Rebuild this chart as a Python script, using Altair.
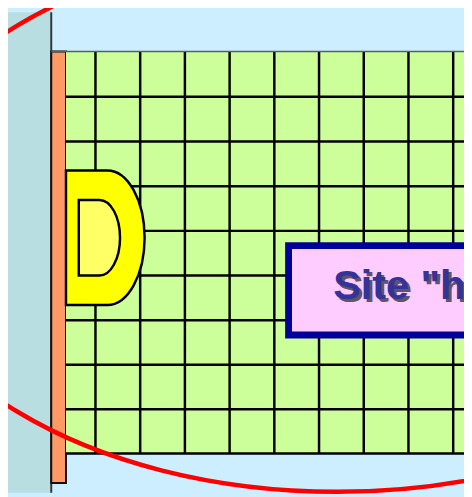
import altair as alt
import pandas as pd

# ---- diagram content (reference pixel units) ----
panel_names = ["wall", "strip", "field"]
panel_x1 = [6, 52, 67]
panel_x2 = [52, 67, 500]
panel_y1 = [3, 48, 48]
panel_y2 = [530, 487, 457]

grid_x = [97, 142.5, 188, 233.5, 279, 324.5, 370, 415.5, 461]
grid_y = [94, 139.5, 185, 230.5, 276, 321.5, 366.7, 411.9, 457]

door_center = [107, 237.5]
box_bounds = [293.5, 520, 245.5, 336.5]
label_text = ['Site "hôte"']
label_pos = [339, 300]
ellipse_center = [343, 218]
ellipse_radii = [460, 278]

# ---- scales that map diagram units onto the page ----
X = alt.Scale(domain=[8, 472], range=[0, 464], nice=False, zero=False)
Y = alt.Scale(domain=[8, 497], range=[0, 489], nice=False, zero=False)


def xe(f):
    return alt.X(f, type="quantitative", scale=X, axis=None)


def ye(f):
    return alt.Y(f, type="quantitative", scale=Y, axis=None)


panels = pd.DataFrame({"name": panel_names, "x1": panel_x1, "x2": panel_x2,
                       "y1": panel_y1, "y2": panel_y2})
fills = {"wall": "#B9DEE2", "strip": "#FF9966", "field": "#CCFF99"}
strokes = {"wall": "#2a3a3a", "strip": "#111111", "field": "#CCFF99"}

layers = []
for n in panel_names:
    d = panels[panels["name"] == n]
    layers.append(
        alt.Chart(d).mark_rect(fill=fills[n], stroke=strokes[n],
                               strokeWidth=2 if n != "field" else 0, clip=True)
        .encode(x=xe("x1"), x2="x2", y=ye("y1"), y2="y2")
    )

gx = pd.DataFrame({"x": grid_x, "y1": [48] * len(grid_x), "y2": [457] * len(grid_x)})
gy = pd.DataFrame({"y": grid_y, "x1": [67] * len(grid_y), "x2": [500] * len(grid_y)})
layers.append(alt.Chart(gx).mark_rule(color="#000000", strokeWidth=2.5, clip=True)
              .encode(x=xe("x"), y=ye("y1"), y2="y2"))
layers.append(alt.Chart(gy).mark_rule(color="#000000", strokeWidth=2.5, clip=True)
              .encode(y=ye("y"), x=xe("x1"), x2="x2"))
top = pd.DataFrame({"y": [48], "x1": [52], "x2": [500]})
layers.append(alt.Chart(top).mark_rule(color="#55606a", strokeWidth=1.5, clip=True)
              .encode(y=ye("y"), x=xe("x1"), x2="x2"))

# door "D"
door = pd.DataFrame({"x": [door_center[0]], "y": [door_center[1]]})
outer_d = "M -0.4 -0.685 L 0.02 -0.685 A 0.38 0.685 0 0 1 0.02 0.685 L -0.4 0.685 Z"
inner_d = "M -0.27 -0.385 L -0.06 -0.385 A 0.21 0.385 0 0 1 -0.06 0.385 L -0.27 0.385 Z"
layers.append(alt.Chart(door).mark_point(shape=outer_d, size=40000, filled=True,
                                         fill="#FFFF00", stroke="#000000",
                                         strokeWidth=2.5, opacity=1)
              .encode(x=xe("x"), y=ye("y")))
layers.append(alt.Chart(door).mark_point(shape=inner_d, size=40000, filled=True,
                                         fill="#FFFF66", stroke="#000000",
                                         strokeWidth=2.5, opacity=1)
              .encode(x=xe("x"), y=ye("y")))

# label box
box = pd.DataFrame({"x1": [box_bounds[0]], "x2": [box_bounds[1]],
                    "y1": [box_bounds[2]], "y2": [box_bounds[3]]})
layers.append(alt.Chart(box).mark_rect(fill="#FFCCFF", stroke="#000099",
                                       strokeWidth=7, clip=True)
              .encode(x=xe("x1"), x2="x2", y=ye("y1"), y2="y2"))

lab = pd.DataFrame({"t": label_text, "x": [label_pos[0]], "y": [label_pos[1]],
                    "xs": [label_pos[0] + 3], "ys": [label_pos[1] + 3]})
layers.append(alt.Chart(lab).mark_text(align="left", baseline="alphabetic",
                                       font="Liberation Sans", fontWeight="bold",
                                       fontSize=42, color="#222222", opacity=0.7,
                                       clip=True)
              .encode(x=xe("xs"), y=ye("ys"), text="t"))
layers.append(alt.Chart(lab).mark_text(align="left", baseline="alphabetic",
                                       font="Liberation Sans", fontWeight="bold",
                                       fontSize=42, color="#333399", clip=True)
              .encode(x=xe("x"), y=ye("y"), text="t"))

# red ellipse
ratio = ellipse_radii[1] / ellipse_radii[0]
ell_path = f"M -1 0 A 1 {ratio:.4f} 0 1 1 1 0 A 1 {ratio:.4f} 0 1 1 -1 0 Z"
ell = pd.DataFrame({"x": [ellipse_center[0]], "y": [ellipse_center[1]]})
layers.append(alt.Chart(ell).mark_point(shape=ell_path, size=(2 * ellipse_radii[0]) ** 2,
                                        filled=False, stroke="#FF0000",
                                        strokeWidth=4.5, opacity=1)
              .encode(x=xe("x"), y=ye("y")))

chart = alt.layer(*layers).properties(
    width=464, height=489, padding=0, background="#CCEEFF",
    autosize=alt.AutoSizeParams(type="none"),
).configure_view(stroke=None)

chart.save("out.html", embed_options={"renderer": "svg", "actions": False})
